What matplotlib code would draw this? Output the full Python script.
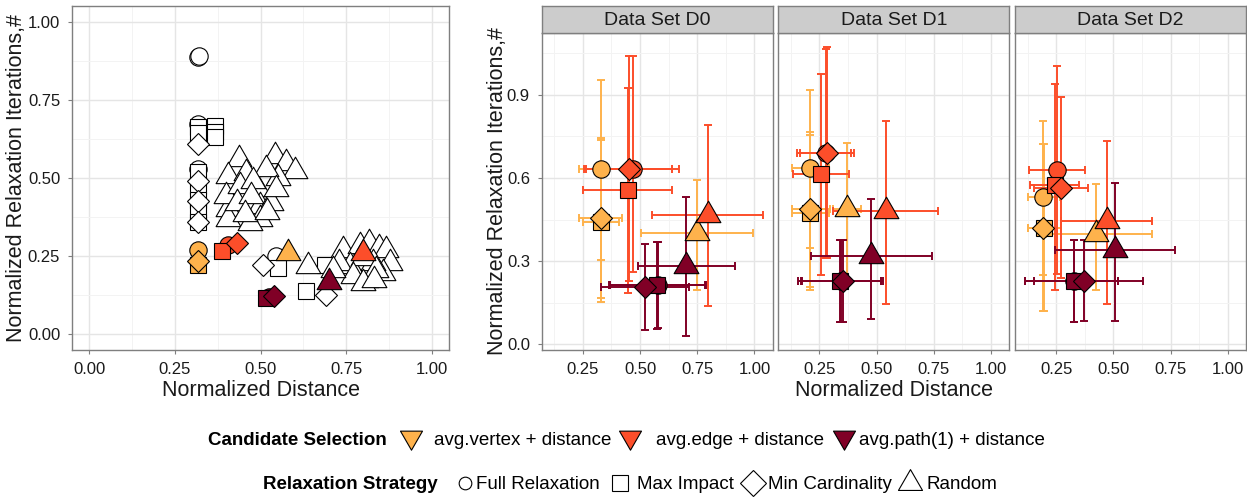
import matplotlib
matplotlib.use("Agg")
import matplotlib.pyplot as plt
from matplotlib.path import Path
import numpy as np

plt.rcParams['font.family'] = ['Liberation Sans', 'DejaVu Sans']

# ---------------- data ----------------
selections = ["avg.vertex + distance", "avg.edge + distance", "avg.path(1) + distance"]
sel_colors = ["#FEB24C", "#FC4E2A", "#800026"]
strategies = ["Full Relaxation", "Max Impact", "Min Cardinality", "Random"]
datasets = ["Data Set D0", "Data Set D1", "Data Set D2"]

left_xticks = [0.0, 0.25, 0.5, 0.75, 1.0]
left_xticklabels = ["0.00", "0.25", "0.50", "0.75", "1.00"]
left_yticks = [0.0, 0.25, 0.5, 0.75, 1.0]
left_yticklabels = ["0.00", "0.25", "0.50", "0.75", "1.00"]
facet_xticks = [0.25, 0.5, 0.75, 1.0]
facet_xticklabels = ["0.25", "0.50", "0.75", "1.00"]
facet_yticks = [0.0, 0.3, 0.6, 0.9]
facet_yticklabels = ["0.0", "0.3", "0.6", "0.9"]

# left panel: individual runs (white)
white_circle_x = [0.318, 0.321, 0.318, 0.318, 0.546]
white_circle_y = [0.886, 0.889, 0.672, 0.530, 0.250]
white_square_x = [0.318, 0.318, 0.366, 0.366, 0.366, 0.318, 0.318, 0.318, 0.318, 0.318, 0.551, 0.687, 0.634]
white_square_y = [0.662, 0.645, 0.665, 0.648, 0.632, 0.520, 0.475, 0.430, 0.390, 0.360, 0.213, 0.223, 0.138]
white_diamond_x = [0.318, 0.318, 0.318, 0.318, 0.507, 0.692]
white_diamond_y = [0.608, 0.490, 0.426, 0.359, 0.223, 0.127]
white_triangle_x = [0.437, 0.405, 0.541, 0.575, 0.600, 0.493, 0.551, 0.459, 0.517, 0.405, 0.400, 0.498,
                    0.532, 0.546, 0.405, 0.498, 0.469, 0.439, 0.478, 0.430, 0.473, 0.455, 0.520,
                    0.741, 0.789, 0.818, 0.847, 0.867, 0.877, 0.857, 0.789, 0.760, 0.730, 0.809,
                    0.828, 0.799, 0.838, 0.770, 0.711, 0.638, 0.800, 0.830]
white_triangle_y = [0.560, 0.506, 0.571, 0.549, 0.522, 0.464, 0.501, 0.517, 0.528, 0.400, 0.442, 0.410,
                    0.421, 0.464, 0.368, 0.368, 0.357, 0.474, 0.490, 0.421, 0.442, 0.385, 0.390,
                    0.271, 0.282, 0.293, 0.277, 0.271, 0.229, 0.197, 0.202, 0.218, 0.229, 0.175,
                    0.229, 0.245, 0.207, 0.186, 0.207, 0.218, 0.165, 0.175]

# left panel: coloured points, order = selection x strategy
left_x = [0.318, 0.318, 0.318, 0.580, 0.405, 0.389, 0.430, 0.799, 0.525, 0.517, 0.538, 0.699]
left_y = [0.271, 0.222, 0.234, 0.261, 0.285, 0.266, 0.293, 0.261, 0.120, 0.117, 0.124, 0.167]

# facets: order = selection x strategy
D0_x   = [0.330, 0.330, 0.330, 0.749, 0.470, 0.447, 0.450, 0.797, 0.580, 0.574, 0.523, 0.702]
D0_y   = [0.631, 0.440, 0.455, 0.401, 0.631, 0.557, 0.631, 0.465, 0.213, 0.213, 0.207, 0.284]
D0_xlo = [0.235, 0.250, 0.235, 0.505, 0.264, 0.250, 0.253, 0.552, 0.370, 0.365, 0.328, 0.489]
D0_xhi = [0.425, 0.410, 0.421, 0.994, 0.669, 0.640, 0.640, 1.038, 0.790, 0.786, 0.716, 0.914]
D0_ylo = [0.305, 0.152, 0.168, 0.197, 0.260, 0.186, 0.227, 0.140, 0.060, 0.057, 0.051, 0.032]
D0_yhi = [0.954, 0.735, 0.742, 0.592, 1.038, 0.925, 1.038, 0.790, 0.370, 0.369, 0.363, 0.530]

D1_x   = [0.209, 0.210, 0.209, 0.370, 0.280, 0.257, 0.285, 0.540, 0.345, 0.340, 0.352, 0.476]
D1_y   = [0.634, 0.475, 0.487, 0.487, 0.690, 0.613, 0.690, 0.479, 0.227, 0.227, 0.227, 0.317]
D1_xlo = [0.129, 0.130, 0.129, 0.310, 0.165, 0.136, 0.151, 0.310, 0.170, 0.158, 0.175, 0.212]
D1_xhi = [0.290, 0.290, 0.294, 0.430, 0.390, 0.380, 0.402, 0.770, 0.520, 0.520, 0.527, 0.741]
D1_ylo = [0.347, 0.197, 0.207, 0.239, 0.311, 0.251, 0.311, 0.144, 0.080, 0.080, 0.080, 0.092]
D1_yhi = [0.918, 0.755, 0.767, 0.724, 1.065, 0.973, 1.071, 0.805, 0.375, 0.375, 0.375, 0.525]

D2_x   = [0.194, 0.195, 0.194, 0.425, 0.254, 0.243, 0.272, 0.472, 0.330, 0.330, 0.371, 0.506]
D2_y   = [0.530, 0.420, 0.421, 0.397, 0.628, 0.575, 0.565, 0.443, 0.227, 0.227, 0.229, 0.339]
D2_xlo = [0.125, 0.125, 0.125, 0.206, 0.133, 0.135, 0.155, 0.272, 0.115, 0.115, 0.155, 0.243]
D2_xhi = [0.265, 0.270, 0.272, 0.667, 0.374, 0.350, 0.390, 0.667, 0.520, 0.520, 0.630, 0.769]
D2_ylo = [0.251, 0.120, 0.120, 0.195, 0.253, 0.197, 0.239, 0.144, 0.080, 0.080, 0.083, 0.086]
D2_yhi = [0.805, 0.722, 0.722, 0.577, 1.003, 0.940, 0.892, 0.734, 0.375, 0.375, 0.375, 0.581]

facet_data = [
    (D0_x, D0_y, D0_xlo, D0_xhi, D0_ylo, D0_yhi),
    (D1_x, D1_y, D1_xlo, D1_xhi, D1_ylo, D1_yhi),
    (D2_x, D2_y, D2_xlo, D2_xhi, D2_ylo, D2_yhi),
]

# ---------------- styling ----------------
W, H = 1247, 498
fig = plt.figure(figsize=(W / 100, H / 100), dpi=100)
fig.patch.set_facecolor('white')


def px_axes(x0, y0, x1, y1, **kw):
    return fig.add_axes([x0 / W, 1 - y1 / H, (x1 - x0) / W, (y1 - y0) / H], **kw)


TRI_UP = Path([(0, 1), (-0.866, -0.5), (0.866, -0.5), (0, 1)], closed=True)
TRI_DN = Path([(0, -1), (-0.866, 0.5), (0.866, 0.5), (0, -1)], closed=True)
shape_markers = ['o', 's', 'D', TRI_UP]
shape_sizes = [12.5, 11.5, 11.6, 20.6]
GRID_MAJ = '#E5E5E5'
GRID_MIN = '#F3F3F3'
BORDER = '#7F7F7F'
TXT = '#1A1A1A'


def style(ax, xlim, ylim, xt, xtl, yt, ytl, show_y=True):
    ax.set_xticks(xt)
    ax.set_xticklabels(xtl)
    ax.set_yticks(yt)
    ax.set_yticklabels(ytl)
    xm = [(a + b) / 2 for a, b in zip(xt[:-1], xt[1:])]
    ym = [(a + b) / 2 for a, b in zip(yt[:-1], yt[1:])]
    xm = [xt[0] - (xt[1] - xt[0]) / 2] + xm + [xt[-1] + (xt[1] - xt[0]) / 2]
    ym = [yt[0] - (yt[1] - yt[0]) / 2] + ym + [yt[-1] + (yt[1] - yt[0]) / 2]
    xm = [v for v in xm if xlim[0] < v < xlim[1]]
    ym = [v for v in ym if ylim[0] < v < ylim[1]]
    ax.set_xticks(xm, minor=True)
    ax.set_yticks(ym, minor=True)
    ax.set_xlim(xlim)
    ax.set_ylim(ylim)
    ax.grid(True, which='major', color=GRID_MAJ, lw=1.0)
    ax.grid(True, which='minor', color=GRID_MIN, lw=0.7)
    ax.set_axisbelow(True)
    for s in ax.spines.values():
        s.set_color(BORDER)
        s.set_linewidth(1.0)
    ax.tick_params(which='major', length=3, width=0.8, color=BORDER,
                   labelsize=12, labelcolor=TXT, pad=5.5)
    ax.tick_params(which='minor', length=0)
    if not show_y:
        ax.tick_params(axis='y', which='both', labelleft=False, length=0)


# ---------------- left panel ----------------
axL = px_axes(72, 6, 449, 350)
style(axL, (-0.05, 1.05), (-0.05, 1.05), left_xticks, left_xticklabels,
      left_yticks, left_yticklabels)

white_sets = [(white_circle_x, white_circle_y), (white_square_x, white_square_y),
              (white_diamond_x, white_diamond_y), (white_triangle_x, white_triangle_y)]
for k, (wx, wy) in enumerate(white_sets):
    axL.plot(wx, wy, ls='none', marker=shape_markers[k], ms=shape_sizes[k],
             mfc='white', mec='black', mew=0.8, zorder=3)

z = 5
for k in range(len(strategies)):
    for s in range(len(selections)):
        i = s * len(strategies) + k
        axL.plot([left_x[i]], [left_y[i]], ls='none', marker=shape_markers[k],
                 ms=shape_sizes[k], mfc=sel_colors[s], mec='black', mew=0.8, zorder=z)
        z += 1

# ---------------- facets ----------------
facet_px = [(541.7, 772.7), (778.3, 1009.3), (1015.0, 1246.0)]
for f, (x0, x1) in enumerate(facet_px):
    ax = px_axes(x0, 33, x1, 350)
    style(ax, (0.07, 1.08), (-0.02, 1.122), facet_xticks, facet_xticklabels,
          facet_yticks, facet_yticklabels, show_y=(f == 0))
    fx, fy, fxlo, fxhi, fylo, fyhi = facet_data[f]
    for s in range(len(selections)):
        for k in range(len(strategies)):
            i = s * len(strategies) + k
            ax.errorbar([fx[i]], [fy[i]],
                        xerr=[[fx[i] - fxlo[i]], [fxhi[i] - fx[i]]],
                        yerr=[[fy[i] - fylo[i]], [fyhi[i] - fy[i]]],
                        fmt='none', ecolor=sel_colors[s], elinewidth=1.4,
                        capsize=2.9, capthick=1.4, zorder=2)
    z = 5
    for k in range(len(strategies)):
        for s in range(len(selections)):
            i = s * len(strategies) + k
            ax.plot([fx[i]], [fy[i]], ls='none', marker=shape_markers[k],
                    ms=shape_sizes[k], mfc=sel_colors[s], mec='black', mew=0.8, zorder=z)
            z += 1
    # strip
    st = px_axes(x0, 6, x1, 33)
    st.set_facecolor('#CCCCCC')
    st.set_xticks([])
    st.set_yticks([])
    for sp in st.spines.values():
        sp.set_color(BORDER)
        sp.set_linewidth(1.0)
    st.text(0.5, 0.45, datasets[f], ha='center', va='center', fontsize=14,
            color=TXT, transform=st.transAxes)

# ---------------- overlay: titles and legend ----------------
ov = fig.add_axes([0, 0, 1, 1], zorder=20)
ov.set_xlim(0, W)
ov.set_ylim(H, 0)
ov.axis('off')

ylab = "Normalized Relaxation Iterations,#"
xlab = "Normalized Distance"
ov.text(16.5, 178, ylab, rotation=90, ha='center', va='center', fontsize=15.5, color=TXT)
ov.text(497.5, 191, ylab, rotation=90, ha='center', va='center', fontsize=15.5, color=TXT)
ov.text(260.5, 396, xlab, ha='center', va='baseline', fontsize=15.5, color=TXT)
ov.text(894, 396, xlab, ha='center', va='baseline', fontsize=15.5, color=TXT)

LEG_FS = 13.5
# row 1: Candidate Selection
ov.text(207.7, 445, "Candidate Selection", ha='left', va='baseline', fontsize=LEG_FS,
        fontweight='bold', color='black')
sel_key_x = [410.8, 630.0, 843.8]
sel_text_x = [434.3, 656.0, 859.3]
for s in range(len(selections)):
    ov.plot([sel_key_x[s]], [436.8], ls='none', marker=TRI_DN, ms=18.3,
            mfc=sel_colors[s], mec='black', mew=0.8)
    ov.text(sel_text_x[s], 445, selections[s], ha='left', va='baseline',
            fontsize=LEG_FS, color='black')

# row 2: Relaxation Strategy
ov.text(263.3, 488.5, "Relaxation Strategy", ha='left', va='baseline', fontsize=LEG_FS,
        fontweight='bold', color='black')
str_key_x = [464.7, 620.0, 753.0, 910.3]
str_key_ms = [9.1, 11.5, 13.2, 20.0]
str_text_x = [476.0, 637.3, 768.3, 926.7]
for k in range(len(strategies)):
    ov.plot([str_key_x[k]], [483.0], ls='none', marker=shape_markers[k], ms=str_key_ms[k],
            mfc='white', mec='black', mew=0.8)
    ov.text(str_text_x[k], 488.5, strategies[k], ha='left', va='baseline',
            fontsize=LEG_FS, color='black')

fig.savefig('out.png', dpi=100)
